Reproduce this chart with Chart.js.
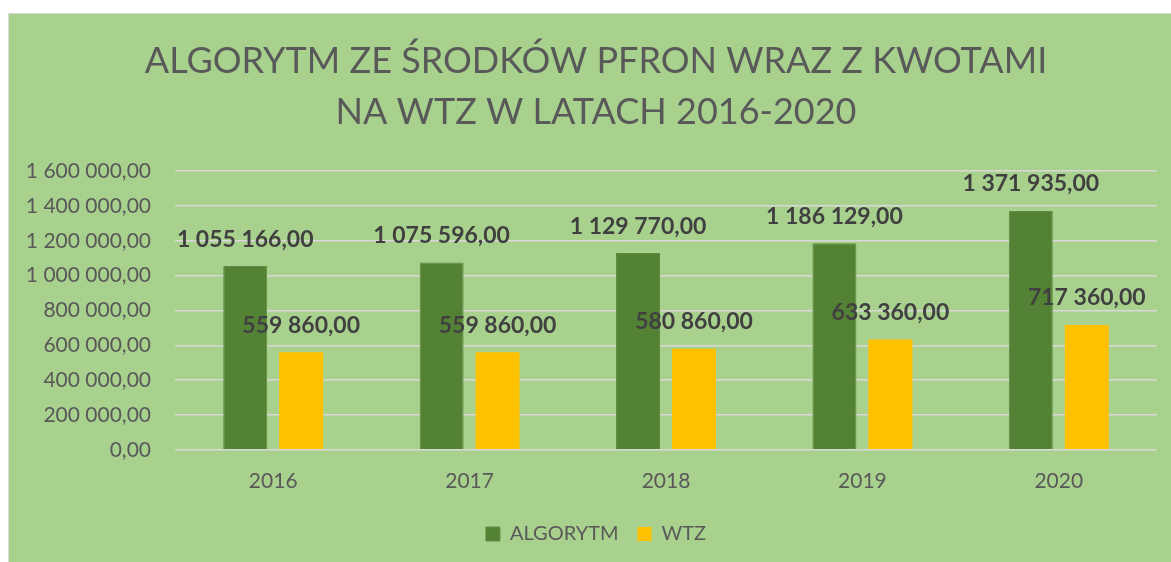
<!DOCTYPE html>
<html>
<head>
<meta charset="utf-8">
<script src="https://cdn.jsdelivr.net/npm/chart.js@4/dist/chart.umd.min.js"></script>
<style>
  html, body { margin: 0; padding: 0; background: #ffffff; }
  #box {
    position: absolute;
    left: 8px;
    top: 13px;
    width: 1162px;
    height: 548px;
    background: #A9D18E;
    border-left: 1px solid #D9D9D9;
    border-top: 1px solid #D9D9D9;
  }
</style>
</head>
<body>
<div id="box"><canvas id="chart" width="1162" height="548"></canvas></div>
<script>
// chart data
const years = ['2016', '2017', '2018', '2019', '2020'];
const algorytm = [1055166, 1075596, 1129770, 1186129, 1371935];
const wtz = [559860, 559860, 580860, 633360, 717360];
const titleLines = ['ALGORYTM ZE ŚRODKÓW PFRON WRAZ Z KWOTAMI', 'NA WTZ W LATACH 2016-2020'];

const FONT = 'Lato, "Open Sans", sans-serif';

// 1055166 -> "1 055 166,00"
function plNumber(v) {
  const s = Math.round(v).toString().replace(/\B(?=(\d{3})+(?!\d))/g, ' ');
  return s + ',00';
}

// value labels above the bars (no datalabels plugin offline)
const barLabels = {
  id: 'barLabels',
  afterLayout(chart) {
    // let the long y tick labels spill into the left padding without clipping
    chart.scales.y.left = 0;
  },
  afterDatasetsDraw(chart) {
    const ctx = chart.ctx;
    ctx.save();
    ctx.font = 'bold 23px ' + FONT;
    ctx.fillStyle = '#404040';
    ctx.textAlign = 'center';
    ctx.textBaseline = 'middle';
    chart.data.datasets.forEach((ds, i) => {
      const meta = chart.getDatasetMeta(i);
      meta.data.forEach((bar, j) => {
        ctx.fillText(plNumber(ds.data[j]), bar.x, bar.y - 27);
      });
    });
    ctx.restore();
  }
};

const ctx = document.getElementById('chart').getContext('2d');

new Chart(ctx, {
  type: 'bar',
  data: {
    labels: years,
    datasets: [
      {
        label: 'ALGORYTM',
        data: algorytm,
        backgroundColor: '#548235',
        borderColor: '#5E8C40',
        borderWidth: 1,
        barPercentage: 0.786,
        categoryPercentage: 0.57,
      },
      {
        label: 'WTZ',
        data: wtz,
        backgroundColor: '#FFC000',
        barPercentage: 0.786,
        categoryPercentage: 0.57,
      },
    ],
  },
  options: {
    responsive: false,
    animation: false,
    layout: {
      padding: { left: 26, right: 14, top: 0, bottom: 8 },
    },
    scales: {
      x: {
        grid: { display: false },
        border: { display: false },
        ticks: {
          color: '#595959',
          font: { family: FONT, size: 21 },
          padding: 11,
        },
      },
      y: {
        min: 0,
        max: 1600000,
        grid: {
          color: '#D9D9D9',
          lineWidth: 1.5,
          drawTicks: false,
        },
        border: { display: false },
        ticks: {
          stepSize: 200000,
          color: '#595959',
          font: { family: FONT, size: 21 },
          padding: 24,
          callback: (v) => plNumber(v),
        },
        afterFit(axis) {
          axis.width = 140; // line the plot up with the reference
        },
      },
    },
    plugins: {
      title: {
        display: true,
        text: titleLines,
        color: '#595959',
        font: { family: FONT, size: 36, weight: 'normal', lineHeight: 1.42 },
        padding: { top: 22, bottom: 33 },
      },
      legend: {
        position: 'bottom',
        labels: {
          color: '#595959',
          font: { family: FONT, size: 20 },
          boxWidth: 14,
          boxHeight: 14,
          padding: 19,
        },
      },
      tooltip: { enabled: false },
    },
  },
  plugins: [barLabels],
});
</script>
</body>
</html>
